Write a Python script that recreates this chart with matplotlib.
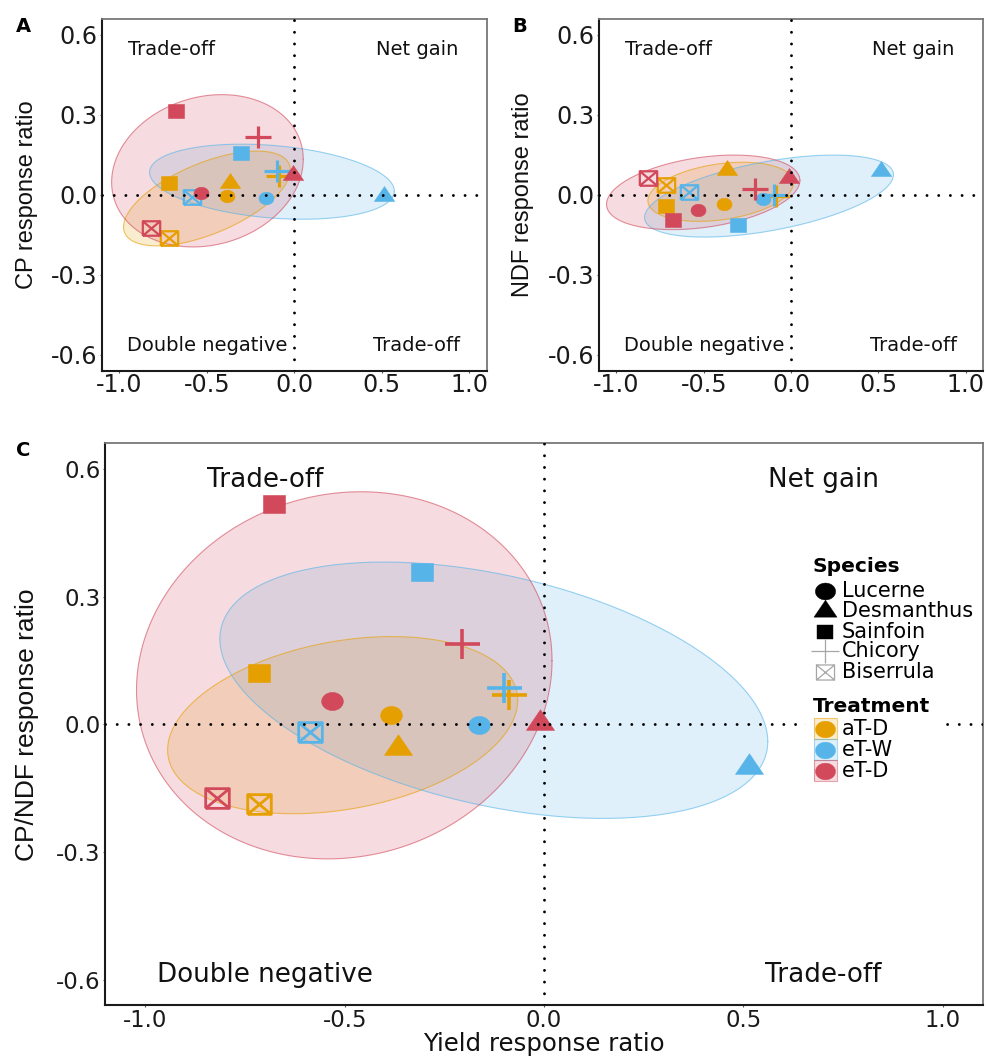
import numpy as np
import matplotlib
matplotlib.use("Agg")
import matplotlib.pyplot as plt
from matplotlib.path import Path
from matplotlib.lines import Line2D
from matplotlib.patches import Rectangle

plt.rcParams['font.family'] = ['DejaVu Sans']
plt.rcParams['axes.unicode_minus'] = False

# ---------------- data ----------------
species = ['Lucerne', 'Desmanthus', 'Sainfoin', 'Chicory', 'Biserrula']
treatments = ['aT-D', 'eT-W', 'eT-D']
treat_colors = ['#E69F00', '#56B4E9', '#D1495B']

# yield response ratio (x), per treatment, species order as above
yield_aTD = [-0.385, -0.367, -0.716, -0.087, -0.715]
yield_eTW = [-0.163, 0.515, -0.305, -0.100, -0.587]
yield_eTD = [-0.531, -0.010, -0.676, -0.206, -0.820]

# CP response ratio (panel A)
cp_aTD = [-0.006, 0.045, 0.045, 0.072, -0.162]
cp_eTW = [-0.014, -0.003, 0.157, 0.090, -0.010]
cp_eTD = [0.005, 0.075, 0.313, 0.217, -0.125]

# NDF response ratio (panel B)
ndf_aTD = [-0.035, 0.092, -0.044, -0.006, 0.035]
ndf_eTW = [-0.016, 0.090, -0.115, 0.000, 0.009]
ndf_eTD = [-0.056, 0.063, -0.093, 0.021, 0.062]

# CP/NDF response ratio (panel C)
cpndf_aTD = [0.021, -0.055, 0.120, 0.068, -0.188]
cpndf_eTW = [-0.001, -0.101, 0.358, 0.085, -0.018]
cpndf_eTD = [0.054, 0.003, 0.518, 0.189, -0.174]

# confidence ellipses: centre x, centre y, half-range x, half-range y, correlation
ellA_aTD = [-0.500, -0.014, 0.477, 0.178, 0.60]
ellA_eTW = [-0.128, 0.049, 0.700, 0.141, -0.25]
ellA_eTD = [-0.497, 0.090, 0.548, 0.286, 0.15]
ellB_aTD = [-0.403, 0.011, 0.417, 0.111, 0.30]
ellB_eTW = [-0.126, -0.005, 0.713, 0.154, 0.52]
ellB_eTD = [-0.503, 0.009, 0.554, 0.140, 0.32]
ellC_aTD = [-0.505, -0.002, 0.439, 0.208, 0.28]
ellC_eTW = [-0.126, 0.080, 0.687, 0.301, -0.40]
ellC_eTD = [-0.501, 0.115, 0.521, 0.431, 0.08]

quad_labels = ['Trade-off', 'Net gain', 'Double negative', 'Trade-off']
x_ticks = [-1.0, -0.5, 0.0, 0.5, 1.0]
y_ticks = [-0.6, -0.3, 0.0, 0.3, 0.6]

# ---------------- marker shapes (slightly wide, as in the reference) ----------------
S = 1.2
M, L, C = Path.MOVETO, Path.LINETO, Path.CLOSEPOLY
_t = np.linspace(0, 2 * np.pi, 65)
m_circle = Path(np.c_[S * np.cos(_t), np.sin(_t)], closed=True)
m_square = Path([(-S, -1), (S, -1), (S, 1), (-S, 1), (-S, -1)], [M, L, L, L, C])
m_tri = Path([(0, 1), (1.02, -0.5), (-1.02, -0.5), (0, 1)], [M, L, L, C])
m_plus = Path([(-1.16, 0), (1.16, 0), (0, -1), (0, 1)], [M, L, M, L])
m_bis = Path([(-S, -1), (S, -1), (S, 1), (-S, 1), (-S, -1), (-S, -1), (S, 1), (-S, 1), (S, -1)],
             [M, L, L, L, L, M, L, M, L])
species_markers = [m_circle, m_tri, m_square, m_plus, m_bis]

W, H = 986, 1057
fig = plt.figure(figsize=(W / 100, H / 100), dpi=100)


def fx(px):
    return px / W


def fy(py):
    return 1 - py / H


axA = fig.add_axes([fx(102), fy(370.5), (486.7 - 102) / W, (370.5 - 19) / H])
axB = fig.add_axes([fx(599), fy(370.5), (983 - 599) / W, (370.5 - 19) / H])
axC = fig.add_axes([fx(105.4), fy(1005.4), (982.7 - 105.4) / W, (1005.4 - 443.2) / H])


def draw_ellipse(ax, p, color):
    cx, cy, rx, ry, rho = p
    t = np.linspace(0, 2 * np.pi, 240)
    ex = cx + rx * np.cos(t)
    ey = cy + ry * (rho * np.cos(t) + np.sqrt(1 - rho ** 2) * np.sin(t))
    ax.fill(ex, ey, color=color, alpha=0.19, lw=0, zorder=1)
    ax.plot(ex, ey, color=color, alpha=0.6, lw=0.8, zorder=1.5)


def panel(ax, yvals, ells, big, ylabel, ylab_font, ylab_x, qpos, qsize, tsize, xpad, ypad):
    xs = [yield_aTD, yield_eTW, yield_eTD]
    for p, col in zip(ells, treat_colors):
        draw_ellipse(ax, p, col)
    if big:
        sz = {'circle': 15.6, 'tri': 20.2, 'square': 15.6, 'plus': 25.2, 'bis': 17.0}
        pw, bw = 2.6, 2.0
    else:
        sz = {'circle': 10.8, 'tri': 14.6, 'square': 11.5, 'plus': 19.0, 'bis': 12.5}
        pw, bw = 2.3, 1.6
    keys = ['circle', 'tri', 'square', 'plus', 'bis']
    for xv, yv, col in zip(xs, yvals, treat_colors):
        for i in range(len(species)):
            k = keys[i]
            if k == 'plus':
                ax.plot(xv[i], yv[i], ls='none', marker=species_markers[i], ms=sz[k],
                        mfc='none', mec=col, mew=pw, zorder=3)
            elif k == 'bis':
                ax.plot(xv[i], yv[i], ls='none', marker=species_markers[i], ms=sz[k],
                        mfc='none', mec=col, mew=bw, zorder=3)
            else:
                ax.plot(xv[i], yv[i], ls='none', marker=species_markers[i], ms=sz[k],
                        mfc=col, mec=col, mew=0.4, zorder=3)
    dots = dict(color='black', lw=2.1, linestyle=(0, (0.01, 4)),
                dash_capstyle='round', zorder=4)
    ax.axhline(0, **dots)
    ax.axvline(0, **dots)
    for (qx, qy), lab in zip(qpos, quad_labels):
        ax.text(qx, qy, lab, ha='center', va='baseline', fontsize=qsize, color='#111111', zorder=5)
    ax.set_xlim(-1.1, 1.1)
    ax.set_ylim(-0.66, 0.66)
    ax.set_xticks(x_ticks)
    ax.set_yticks(y_ticks)
    ax.set_xticklabels([f"{v:.1f}" for v in x_ticks])
    ax.set_yticklabels([f"{v:.1f}" for v in y_ticks])
    ax.tick_params(axis='x', length=1.5, width=0.8, color='#555555', labelsize=tsize,
                   pad=xpad, labelcolor='#1a1a1a')
    ax.tick_params(axis='y', length=1.5, width=0.8, color='#555555', labelsize=tsize,
                   pad=ypad, labelcolor='#1a1a1a')
    for s in ['left', 'bottom']:
        ax.spines[s].set_color('#1a1a1a')
        ax.spines[s].set_linewidth(1.5)
    for s in ['top', 'right']:
        ax.spines[s].set_color('#777777')
        ax.spines[s].set_linewidth(1.3)
    ax.set_ylabel(ylabel, fontsize=ylab_font, family=['Liberation Sans', 'DejaVu Sans'],
                  color='#111111')
    ax.yaxis.set_label_coords(ylab_x, 0.5)
    ax.yaxis.label.set_va('center')


qposAB = [(-0.7, 0.525), (0.7, 0.525), (-0.5, -0.585), (0.7, -0.585)]
qposC = [(-0.7, 0.557), (0.7, 0.557), (-0.7, -0.606), (0.7, -0.606)]

panel(axA, [cp_aTD, cp_eTW, cp_eTD], [ellA_aTD, ellA_eTW, ellA_eTD], False,
      'CP response ratio', 17, -0.196, qposAB, 14, 17.2, 0.6, 1.5)
panel(axB, [ndf_aTD, ndf_eTW, ndf_eTD], [ellB_aTD, ellB_eTW, ellB_eTD], False,
      'NDF response ratio', 17, -0.197, qposAB, 14, 17.2, 0.6, 1.5)
panel(axC, [cpndf_aTD, cpndf_eTW, cpndf_eTD], [ellC_aTD, ellC_eTW, ellC_eTD], True,
      'CP/NDF response ratio', 19, -0.0896, qposC, 18.8, 16.4, 1.1, 2.2)

# x-axis title of panel C (baseline placed just above the bottom edge, as in the reference)
axC.set_xlabel('Yield response ratio', fontsize=17.6, color='#111111')
axC.xaxis.set_label_coords(0.5, (1005.4 - 1050.6) / (1005.4 - 443.2))
axC.xaxis.label.set_va('baseline')

# panel letters
for lab, (px, py) in zip(['A', 'B', 'C'], [(23, 27), (520, 27), (23, 450)]):
    fig.text(fx(px), fy(py), lab, ha='center', va='center', fontsize=14, fontweight='bold')

# ---------------- legend (drawn inside panel C) ----------------
fig.add_artist(Rectangle((fx(806), fy(684)), (980 - 806) / W, (684 - 553) / H,
                         transform=fig.transFigure, facecolor='white', edgecolor='none', zorder=6))
fig.add_artist(Rectangle((fx(806), fy(783)), (938 - 806) / W, (783 - 692) / H,
                         transform=fig.transFigure, facecolor='white', edgecolor='none', zorder=6))

leg_mx, leg_tx = 825, 841.5
fig.text(fx(813), fy(567), 'Species', ha='left', va='center', fontsize=14.5,
         fontweight='bold', zorder=7)
sp_y = [590.6, 610.7, 631.7, 651.4, 672.3]
leg_ms = [14.6, 16.6, 12.2, 20.0, 13.0]
for i, (name, py) in enumerate(zip(species, sp_y)):
    if i < 3:
        ln = Line2D([fx(leg_mx)], [fy(py)], transform=fig.transFigure, ls='none',
                    marker=species_markers[i], ms=leg_ms[i], mfc='black', mec='black', mew=0.3,
                    zorder=7)
    else:
        ln = Line2D([fx(leg_mx)], [fy(py)], transform=fig.transFigure, ls='none',
                    marker=species_markers[i], ms=leg_ms[i], mfc='none', mec='#a6a6a6', mew=0.9,
                    zorder=7)
    fig.add_artist(ln)
    fig.text(fx(leg_tx), fy(py), name, ha='left', va='center', fontsize=15, zorder=7)

fig.text(fx(813), fy(706), 'Treatment', ha='left', va='center', fontsize=14.5,
         fontweight='bold', zorder=7)
tr_y = [728.9, 749.8, 770.8]
for name, col, py in zip(treatments, treat_colors, tr_y):
    fig.add_artist(Rectangle((fx(leg_mx - 11.5), fy(py + 10.5)), 23 / W, 21 / H,
                             transform=fig.transFigure, facecolor=col, alpha=0.19,
                             edgecolor='none', zorder=7))
    fig.add_artist(Rectangle((fx(leg_mx - 11.5), fy(py + 10.5)), 23 / W, 21 / H,
                             transform=fig.transFigure, facecolor='none',
                             edgecolor=col, alpha=0.5, lw=0.8, zorder=7.1))
    fig.add_artist(Line2D([fx(leg_mx)], [fy(py)], transform=fig.transFigure, ls='none',
                          marker=m_circle, ms=14.4, mfc=col, mec=col, mew=0.3, zorder=7.2))
    fig.text(fx(leg_tx), fy(py), name, ha='left', va='center', fontsize=15, zorder=7)

fig.savefig('out.png', dpi=100)
